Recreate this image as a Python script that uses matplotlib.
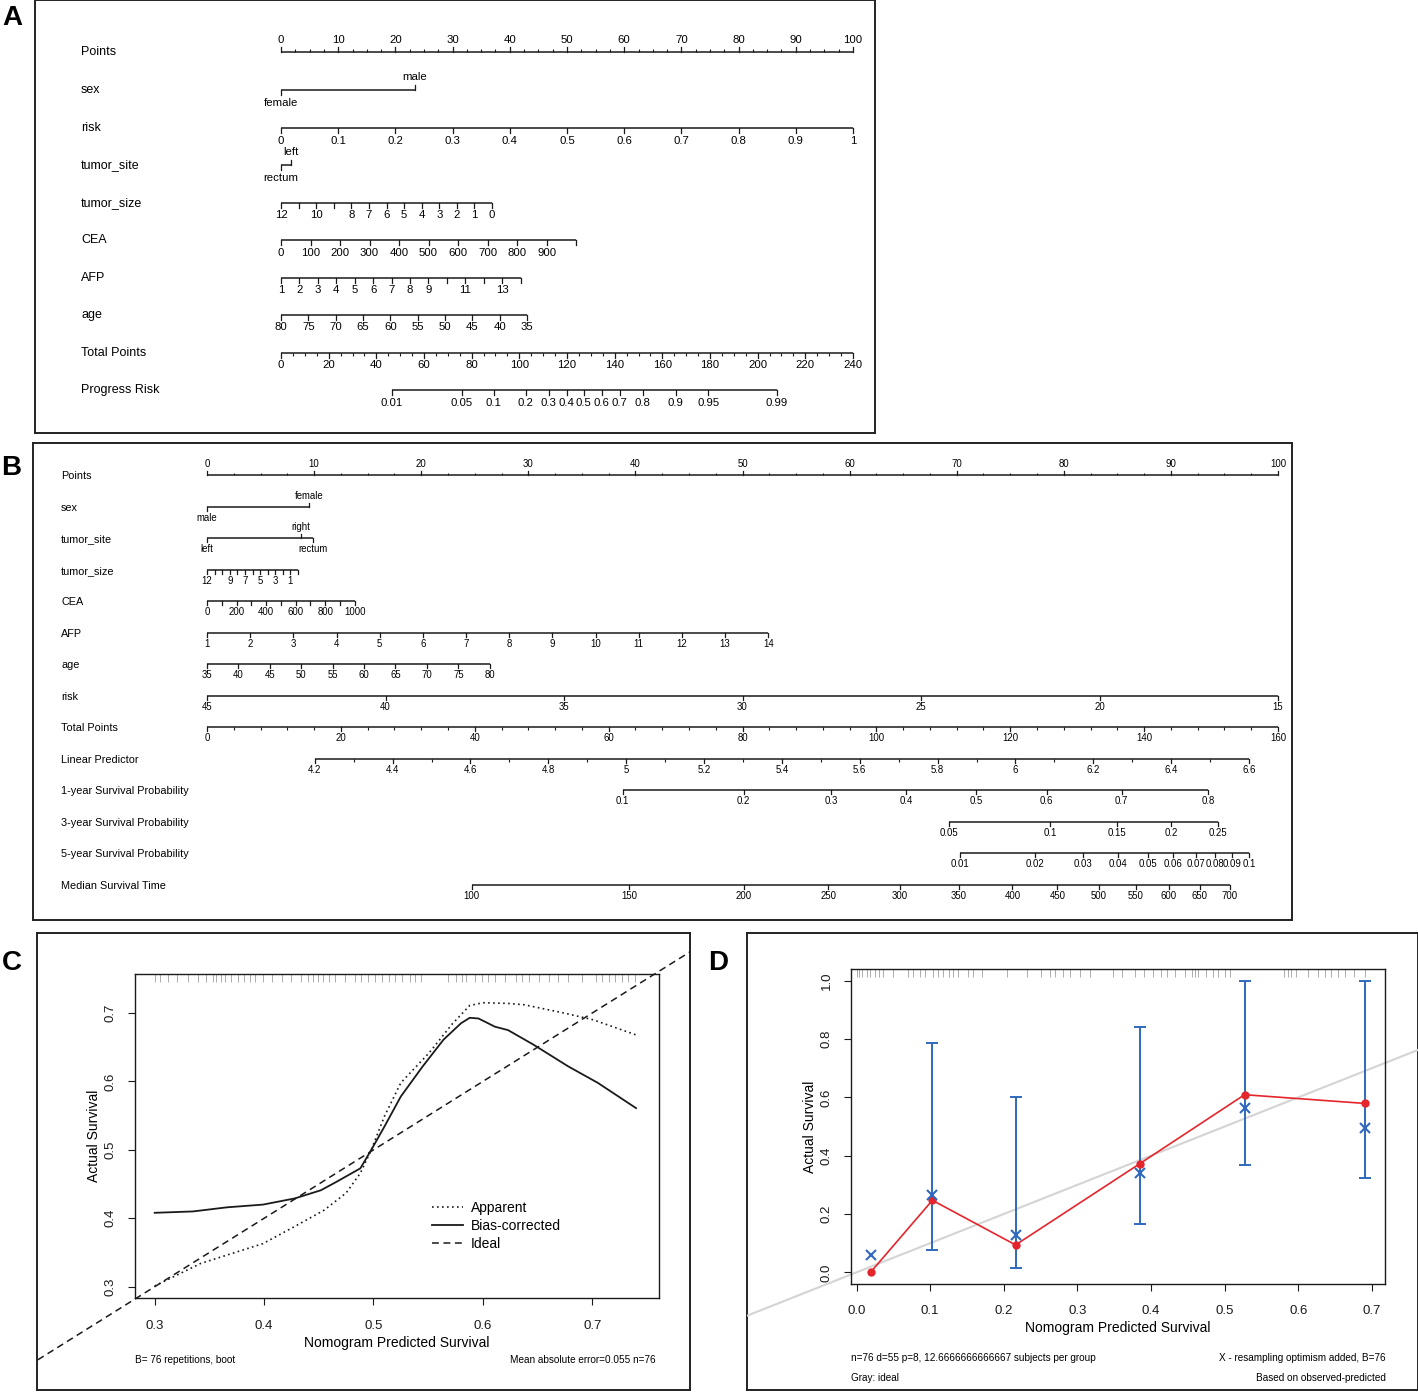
import numpy as np
import matplotlib
matplotlib.use("Agg")
import matplotlib.pyplot as plt

plt.rcParams["font.family"] = ["Liberation Sans", "DejaVu Sans"]

# ── Panel A nomogram (positions on the 0-100 Points axis) ──
A_SEX = ["female", "male"]
A_SEX_PTS = [0, 23.4]
A_RISK_VALS = [0, 0.1, 0.2, 0.3, 0.4, 0.5, 0.6, 0.7, 0.8, 0.9, 1]
A_RISK_PTS = (0, 100)
A_SITE = ["rectum", "left"]
A_SITE_PTS = [0, 1.8]
A_SIZE_VALS = [12, 11, 10, 9, 8, 7, 6, 5, 4, 3, 2, 1, 0]
A_SIZE_SHOWN = [12, 10, 8, 7, 6, 5, 4, 3, 2, 1, 0]
A_SIZE_PTS = (0, 36.9)
A_CEA_VALS = [0, 100, 200, 300, 400, 500, 600, 700, 800, 900, 1000]
A_CEA_SHOWN = [0, 100, 200, 300, 400, 500, 600, 700, 800, 900]
A_CEA_PTS = (0, 51.6)
A_AFP_VALS = [1, 2, 3, 4, 5, 6, 7, 8, 9, 10, 11, 12, 13, 14]
A_AFP_SHOWN = [1, 2, 3, 4, 5, 6, 7, 8, 9, 11, 13]
A_AFP_PTS = (0, 41.9)
A_AGE_VALS = [80, 75, 70, 65, 60, 55, 50, 45, 40, 35]
A_AGE_PTS = (0, 43.0)
A_TOTAL_VALS = [0, 20, 40, 60, 80, 100, 120, 140, 160, 180, 200, 220, 240]
A_PROG_VALS = [0.01, 0.05, 0.1, 0.2, 0.3, 0.4, 0.5, 0.6, 0.7, 0.8, 0.9, 0.95, 0.99]
A_PROG_TOTAL = [46.6, 75.9, 89.3, 102.7, 112.3, 119.8, 127.0, 134.6, 142.1,
                151.8, 165.7, 179.2, 208.0]

# ── Panel B nomogram ──
B_SEX = ["male", "female"]
B_SEX_PTS = [0, 9.5]
B_SITE = ["left", "right", "rectum"]
B_SITE_PTS = [0, 8.8, 9.9]
B_SIZE_VALS = [12, 11, 10, 9, 8, 7, 6, 5, 4, 3, 2, 1, 0]
B_SIZE_SHOWN = [12, 9, 7, 5, 3, 1]
B_SIZE_PTS = (0, 8.5)
B_CEA_VALS = [0, 100, 200, 300, 400, 500, 600, 700, 800, 900, 1000]
B_CEA_SHOWN = [0, 200, 400, 600, 800, 1000]
B_CEA_PTS = (0, 13.8)
B_AFP_VALS = [1, 2, 3, 4, 5, 6, 7, 8, 9, 10, 11, 12, 13, 14]
B_AFP_PTS = (0, 52.4)
B_AGE_VALS = [35, 40, 45, 50, 55, 60, 65, 70, 75, 80]
B_AGE_PTS = (0, 26.4)
B_RISK_VALS = [45, 40, 35, 30, 25, 20, 15]
B_RISK_PTS = (0, 100)
B_TOTAL_VALS = [0, 20, 40, 60, 80, 100, 120, 140, 160]
B_LP_VALS = [4.2, 4.4, 4.6, 4.8, 5, 5.2, 5.4, 5.6, 5.8, 6, 6.2, 6.4, 6.6]
B_LP_PTS = (10.06, 97.3)
B_SURV1_VALS = [0.1, 0.2, 0.3, 0.4, 0.5, 0.6, 0.7, 0.8]
B_SURV1_PTS = [38.8, 50.1, 58.3, 65.3, 71.8, 78.4, 85.4, 93.5]
B_SURV3_VALS = [0.05, 0.1, 0.15, 0.2, 0.25]
B_SURV3_PTS = [69.3, 78.7, 85.0, 90.0, 94.4]
B_SURV5_VALS = [0.01, 0.02, 0.03, 0.04, 0.05, 0.06, 0.07, 0.08, 0.09, 0.1]
B_SURV5_PTS = [70.3, 77.3, 81.8, 85.1, 87.9, 90.2, 92.3, 94.1, 95.7, 97.3]
B_MED_VALS = [100, 150, 200, 250, 300, 350, 400, 450, 500, 550, 600, 650, 700]
B_MED_PTS = [24.7, 39.4, 50.1, 58.0, 64.7, 70.2, 75.2, 79.4, 83.3, 86.7, 89.8, 92.7, 95.5]

# ── Panel C calibration curves ──
C_APP_X = [0.300, 0.342, 0.399, 0.428, 0.455, 0.475, 0.488, 0.498, 0.510, 0.525,
           0.551, 0.572, 0.588, 0.600, 0.623, 0.638, 0.674, 0.701, 0.740]
C_APP_Y = [0.301, 0.334, 0.363, 0.388, 0.412, 0.437, 0.466, 0.500, 0.549, 0.598,
           0.642, 0.684, 0.711, 0.715, 0.714, 0.712, 0.700, 0.690, 0.668]
C_BC_X = [0.300, 0.335, 0.366, 0.399, 0.428, 0.452, 0.467, 0.488, 0.498, 0.510,
          0.525, 0.545, 0.564, 0.580, 0.588, 0.596, 0.611, 0.623, 0.646, 0.678,
          0.705, 0.740]
C_BC_Y = [0.408, 0.410, 0.416, 0.420, 0.429, 0.441, 0.454, 0.473, 0.500, 0.534,
          0.578, 0.622, 0.661, 0.685, 0.693, 0.692, 0.680, 0.675, 0.654, 0.622,
          0.598, 0.561]
C_RUG = [0.300, 0.305, 0.312, 0.320, 0.330, 0.340, 0.347, 0.353, 0.356, 0.361,
         0.364, 0.370, 0.376, 0.382, 0.387, 0.392, 0.399, 0.407, 0.416, 0.425,
         0.434, 0.440, 0.445, 0.449, 0.454, 0.459, 0.465, 0.474, 0.483, 0.489,
         0.495, 0.501, 0.508, 0.514, 0.520, 0.526, 0.533, 0.538, 0.543, 0.568,
         0.575, 0.581, 0.585, 0.593, 0.599, 0.605, 0.611, 0.620, 0.630, 0.636,
         0.642, 0.651, 0.660, 0.669, 0.678, 0.691, 0.703, 0.709, 0.715, 0.721,
         0.727, 0.733, 0.739]

# ── Panel D grouped calibration ──
D_PRED = [0.019, 0.103, 0.216, 0.385, 0.527, 0.691]
D_OBS = [0.0, 0.247, 0.094, 0.373, 0.609, 0.579]
D_CORR = [0.061, 0.265, 0.128, 0.340, 0.564, 0.495]
D_LO = [np.nan, 0.078, 0.014, 0.166, 0.369, 0.324]
D_HI = [np.nan, 0.785, 0.601, 0.842, 0.998, 1.0]
D_RUG = [0.0, 0.003, 0.007, 0.014, 0.018, 0.025, 0.030, 0.036, 0.050, 0.070,
         0.077, 0.086, 0.093, 0.104, 0.111, 0.118, 0.125, 0.131, 0.138, 0.152,
         0.158, 0.170, 0.204, 0.231, 0.251, 0.263, 0.269, 0.280, 0.290, 0.303,
         0.317, 0.348, 0.360, 0.378, 0.391, 0.403, 0.414, 0.421, 0.432, 0.446,
         0.455, 0.459, 0.464, 0.475, 0.484, 0.491, 0.500, 0.507, 0.581, 0.586,
         0.590, 0.597, 0.613, 0.627, 0.636, 0.645, 0.654, 0.663, 0.676, 0.690]

INK = "#1a1a1a"
BLUE = "#2f68bd"
RED = "#e5252c"

W, H = 1418, 1392
fig = plt.figure(figsize=(W / 100, H / 100), dpi=100)


def px_axes(l, t, r, b):
    return fig.add_axes([l / W, 1 - b / H, (r - l) / W, (b - t) / H])


def ftext(x, y, s, **kw):
    return fig.text(x / W, 1 - y / H, s, **kw)


def frame(ax, lw=1.4):
    ax.set_xticks([])
    ax.set_yticks([])
    for sp in ax.spines.values():
        sp.set_linewidth(lw)
        sp.set_color("#222222")


def lin(vals, v0, v1, p0, p1):
    return p0 + (np.asarray(vals, float) - v0) * (p1 - p0) / (v1 - v0)


def fmt(v):
    return f"{v:g}"


def row(ax, y, pts, labels, up=None, tick=5, off=12, fs=7.5):
    pts = np.asarray(pts, float)
    if up is None:
        up = [False] * len(pts)
    ax.plot([pts.min(), pts.max()], [y, y], color=INK, lw=1.1, solid_capstyle="butt")
    for p, lab, u in zip(pts, labels, up):
        d = -1 if u else 1
        ax.plot([p, p], [y, y + d * tick], color=INK, lw=0.9)
        if lab != "":
            ax.text(p, y + d * off, lab, ha="center", va="center", fontsize=fs)


def minor(ax, y, pts, up=False, tick=2.5):
    d = -1 if up else 1
    ax.vlines(pts, y, y + d * tick, color=INK, lw=0.8)


def nomo_axes(l, t, r, b, px0, px100):
    ax = px_axes(l, t, r, b)
    k = 100 / (px100 - px0)
    ax.set_xlim((l - px0) * k, (r - px0) * k)
    ax.set_ylim(b, t)
    frame(ax)
    return ax


# ════════════════ Panel A ════════════════
axA = nomo_axes(35, 0, 875, 433, 281, 853)
ftext(12, 18, "A", fontsize=20, fontweight="bold", ha="center", va="center")
fsA, labA = 8.2, 9
rowsA = ["Points", "sex", "risk", "tumor_site", "tumor_size", "CEA", "AFP", "age",
         "Total Points", "Progress Risk"]
yA = [52, 90, 128, 165, 203, 240, 278, 315, 353, 390]
for name, y in zip(rowsA, yA):
    ftext(81, y, name, fontsize=labA, ha="left", va="center")

pts_major = list(range(0, 101, 10))
row(axA, yA[0], pts_major, [fmt(v) for v in pts_major], up=[True] * 11, off=12, fs=fsA)
minor(axA, yA[0], [v for v in np.arange(0, 100.1, 2.5) if v % 10], up=True, tick=3)
row(axA, yA[1], A_SEX_PTS, A_SEX, up=[False, True], off=13, fs=fsA)
row(axA, yA[2], lin(A_RISK_VALS, 0, 1, *A_RISK_PTS), [fmt(v) for v in A_RISK_VALS], off=13, fs=fsA)
row(axA, yA[3], A_SITE_PTS, A_SITE, up=[False, True], off=13, fs=fsA)
row(axA, yA[4], lin(A_SIZE_VALS, 12, 0, *A_SIZE_PTS),
    [fmt(v) if v in A_SIZE_SHOWN else "" for v in A_SIZE_VALS], off=12, fs=fsA)
row(axA, yA[5], lin(A_CEA_VALS, 0, 1000, *A_CEA_PTS),
    [fmt(v) if v in A_CEA_SHOWN else "" for v in A_CEA_VALS], off=13, fs=fsA)
row(axA, yA[6], lin(A_AFP_VALS, 1, 14, *A_AFP_PTS),
    [fmt(v) if v in A_AFP_SHOWN else "" for v in A_AFP_VALS], off=12, fs=fsA)
row(axA, yA[7], lin(A_AGE_VALS, 80, 35, *A_AGE_PTS), [fmt(v) for v in A_AGE_VALS], off=12, fs=fsA)
row(axA, yA[8], lin(A_TOTAL_VALS, 0, 240, 0, 100), [fmt(v) for v in A_TOTAL_VALS], off=12, fs=fsA)
minor(axA, yA[8], lin([v for v in range(0, 241, 5) if v % 20], 0, 240, 0, 100), tick=3)
row(axA, yA[9], lin(A_PROG_TOTAL, 0, 240, 0, 100), [fmt(v) for v in A_PROG_VALS], off=13, fs=fsA)

# ════════════════ Panel B ════════════════
axB = nomo_axes(33, 443, 1292, 920, 207, 1278)
ftext(11, 468, "B", fontsize=20, fontweight="bold", ha="center", va="center")
fsB, labB = 6.9, 7.8
rowsB = ["Points", "sex", "tumor_site", "tumor_size", "CEA", "AFP", "age", "risk",
         "Total Points", "Linear Predictor", "1-year Survival Probability",
         "3-year Survival Probability", "5-year Survival Probability",
         "Median Survival Time"]
yB = [475, 507, 538, 570, 601, 633, 664, 696, 727, 759, 790, 822, 853, 885]
for name, y in zip(rowsB, yB):
    ftext(61, y + 1, name, fontsize=labB, ha="left", va="center")

row(axB, yB[0], pts_major, [fmt(v) for v in pts_major], up=[True] * 11, tick=4, off=11, fs=fsB)
minor(axB, yB[0], [v for v in np.arange(0, 100.1, 2.5) if v % 10], up=True, tick=2.5)
row(axB, yB[1], B_SEX_PTS, B_SEX, up=[False, True], tick=4, off=11, fs=fsB)
row(axB, yB[2], B_SITE_PTS, B_SITE, up=[False, True, False], tick=4, off=11, fs=fsB)
row(axB, yB[3], lin(B_SIZE_VALS, 12, 0, *B_SIZE_PTS),
    [fmt(v) if v in B_SIZE_SHOWN else "" for v in B_SIZE_VALS], tick=4, off=11, fs=fsB)
row(axB, yB[4], lin(B_CEA_VALS, 0, 1000, *B_CEA_PTS),
    [fmt(v) if v in B_CEA_SHOWN else "" for v in B_CEA_VALS], tick=4, off=11, fs=fsB)
row(axB, yB[5], lin(B_AFP_VALS, 1, 14, *B_AFP_PTS), [fmt(v) for v in B_AFP_VALS], tick=4, off=11, fs=fsB)
row(axB, yB[6], lin(B_AGE_VALS, 35, 80, *B_AGE_PTS), [fmt(v) for v in B_AGE_VALS], tick=4, off=11, fs=fsB)
row(axB, yB[7], lin(B_RISK_VALS, 45, 15, *B_RISK_PTS), [fmt(v) for v in B_RISK_VALS], tick=4, off=11, fs=fsB)
row(axB, yB[8], lin(B_TOTAL_VALS, 0, 160, 0, 100), [fmt(v) for v in B_TOTAL_VALS], tick=4, off=11, fs=fsB)
minor(axB, yB[8], lin([v for v in range(0, 161, 4) if v % 20], 0, 160, 0, 100))
row(axB, yB[9], lin(B_LP_VALS, 4.2, 6.6, *B_LP_PTS), [fmt(v) for v in B_LP_VALS], tick=4, off=11, fs=fsB)
minor(axB, yB[9], lin(np.round(np.arange(4.3, 6.6, 0.2), 1), 4.2, 6.6, *B_LP_PTS))
row(axB, yB[10], B_SURV1_PTS, [fmt(v) for v in B_SURV1_VALS], tick=4, off=11, fs=fsB)
row(axB, yB[11], B_SURV3_PTS, [fmt(v) for v in B_SURV3_VALS], tick=4, off=11, fs=fsB)
row(axB, yB[12], B_SURV5_PTS, [fmt(v) for v in B_SURV5_VALS], tick=4, off=11, fs=fsB)
row(axB, yB[13], B_MED_PTS, [fmt(v) for v in B_MED_VALS], tick=4, off=11, fs=fsB)


# ════════════════ Panel C ════════════════
def r_style(ax, pad_x, pad_y):
    for sp in ax.spines.values():
        sp.set_linewidth(1.0)
        sp.set_color(INK)
    ax.tick_params(direction="out", length=5, width=0.8, labelsize=9.5, colors=INK)
    ax.tick_params(axis="x", pad=pad_x)
    ax.tick_params(axis="y", pad=pad_y, labelrotation=90)
    for t in ax.get_yticklabels():
        t.set_va("center")


def ideal_line(ax, bg, **kw):
    inv = ax.transData.inverted()
    (x0, y0), (x1, y1) = inv.transform(bg.bbox.get_points())
    lo, hi = min(x0, y0), max(x1, y1)
    ln, = ax.plot([lo, hi], [lo, hi], **kw)
    ln.set_clip_path(bg.patch)
    return ln


bgC = px_axes(37, 933, 690, 1390)
frame(bgC)
axC = px_axes(135, 974, 659, 1298)
axC.set_xlim(0.282, 0.761)
axC.set_ylim(0.2835, 0.757)
axC.set_xticks([0.3, 0.4, 0.5, 0.6, 0.7])
axC.set_yticks([0.3, 0.4, 0.5, 0.6, 0.7])
r_style(axC, 11, 8)
ftext(12, 963, "C", fontsize=20, fontweight="bold", ha="center", va="center")

axC.vlines(C_RUG, 0.975, 1.0, transform=axC.get_xaxis_transform(), color="#a0a0a0", lw=0.6)
axC.plot(C_APP_X, C_APP_Y, color=INK, lw=1.2, linestyle=(0, (1, 2)), label="Apparent")
axC.plot(C_BC_X, C_BC_Y, color=INK, lw=1.3, label="Bias-corrected")
ideal_line(axC, bgC, color=INK, lw=1.1, linestyle=(0, (4.5, 3)), label="Ideal")
axC.legend(loc="upper left", bbox_to_anchor=((432 - 135) / 524, (1298 - 1201) / 324),
           frameon=False, fontsize=10, handlelength=2.2, handletextpad=0.6,
           labelspacing=0.3, borderpad=0, borderaxespad=0)
axC.set_xlabel("Nomogram Predicted Survival", fontsize=10, labelpad=2.5)
axC.set_ylabel("Actual Survival", fontsize=10, labelpad=3)
ftext(135, 1360, "B= 76 repetitions, boot", fontsize=7.2, ha="left", va="center")
ftext(656, 1360, "Mean absolute error=0.055 n=76", fontsize=7.2, ha="right", va="center")

# ════════════════ Panel D ════════════════
bgD = px_axes(747, 933, 1418, 1390)
frame(bgD)
axD = px_axes(851, 969, 1385, 1284)
axD.set_xlim(-0.0075, 0.7177)
axD.set_ylim(-0.04, 1.04)
axD.set_xticks([0.0, 0.1, 0.2, 0.3, 0.4, 0.5, 0.6, 0.7])
axD.set_yticks([0.0, 0.2, 0.4, 0.6, 0.8, 1.0])
axD.xaxis.set_major_formatter(plt.FormatStrFormatter("%.1f"))
axD.yaxis.set_major_formatter(plt.FormatStrFormatter("%.1f"))
r_style(axD, 10, 8)
ftext(718, 963, "D", fontsize=20, fontweight="bold", ha="center", va="center")

axD.vlines(D_RUG, 0.975, 1.0, transform=axD.get_xaxis_transform(), color="#a0a0a0", lw=0.6)
ideal_line(axD, bgD, color="#d4d4d4", lw=1.5, zorder=1)
axD.plot(D_PRED, D_OBS, color=RED, lw=1.2, marker="o", markersize=5, zorder=3)
lo = np.array(D_LO)
hi = np.array(D_HI)
ok = ~np.isnan(lo)
px = np.array(D_PRED)[ok]
axD.errorbar(px, (lo[ok] + hi[ok]) / 2, yerr=(hi[ok] - lo[ok]) / 2, fmt="none",
             ecolor=BLUE, elinewidth=1.4, capsize=4, capthick=1.4, zorder=2)
axD.plot(D_PRED, D_CORR, linestyle="none", marker="x", markersize=6.5, mew=1.5,
         color=BLUE, zorder=4)
axD.set_xlabel("Nomogram Predicted Survival", fontsize=10, labelpad=3)
axD.set_ylabel("Actual Survival", fontsize=10, labelpad=3)
ftext(851, 1358, "n=76 d=55 p=8, 12.6666666666667 subjects per group", fontsize=7.2,
      ha="left", va="center")
ftext(1386, 1358, "X - resampling optimism added, B=76", fontsize=7.2, ha="right", va="center")
ftext(851, 1378, "Gray: ideal", fontsize=7.2, ha="left", va="center")
ftext(1386, 1378, "Based on observed-predicted", fontsize=7.2, ha="right", va="center")

fig.savefig("out.png", dpi=100)
